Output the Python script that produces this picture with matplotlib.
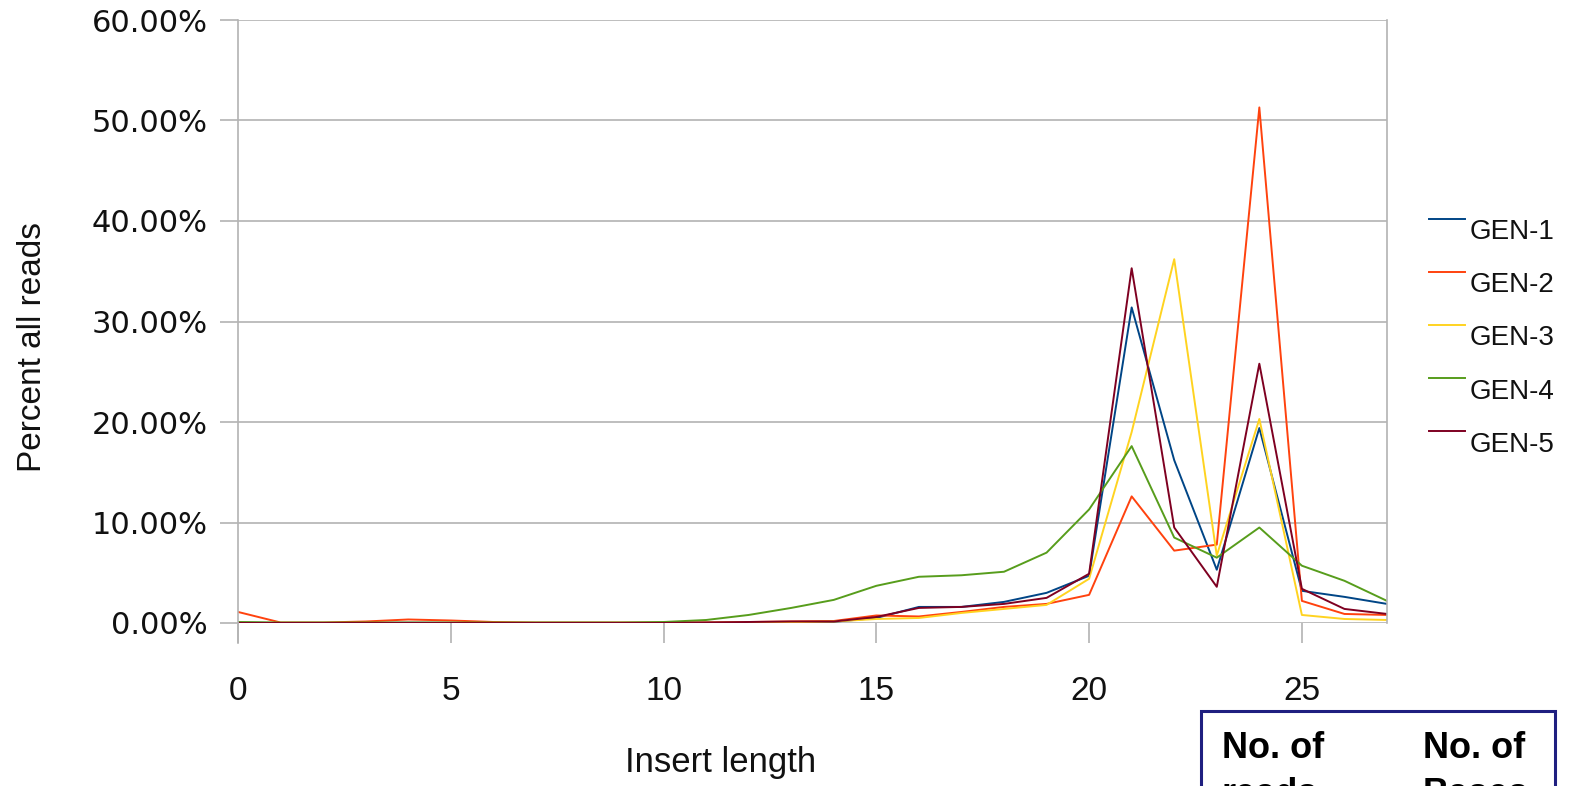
import numpy as np
import matplotlib
matplotlib.use("Agg")
import matplotlib.pyplot as plt
from matplotlib.legend_handler import HandlerLine2D
from matplotlib.patches import Rectangle

plt.rcParams['font.family'] = ['Liberation Sans', 'DejaVu Sans']

insert_len = list(range(28))
gen1 = [0.05, 0.0, 0.0, 0.02, 0.03, 0.02, 0.0, 0.0, 0.0, 0.0, 0.0, 0.02, 0.05, 0.08,
        0.12, 0.5, 1.6, 1.6, 2.1, 3.0, 4.7, 31.4, 16.2, 5.3, 19.4, 3.2, 2.6, 1.9]
gen2 = [1.1, 0.05, 0.05, 0.15, 0.35, 0.25, 0.1, 0.05, 0.05, 0.05, 0.05, 0.05, 0.1, 0.15,
        0.2, 0.75, 0.65, 1.1, 1.6, 1.9, 2.8, 12.6, 7.2, 7.8, 51.3, 2.2, 0.9, 0.8]
gen3 = [0.0, 0.0, 0.0, 0.0, 0.0, 0.0, 0.0, 0.0, 0.0, 0.0, 0.0, 0.02, 0.05, 0.08,
        0.15, 0.4, 0.5, 1.0, 1.4, 1.8, 4.4, 19.0, 36.2, 6.7, 20.3, 0.8, 0.4, 0.3]
gen4 = [0.1, 0.05, 0.05, 0.05, 0.05, 0.05, 0.05, 0.05, 0.05, 0.05, 0.1, 0.3, 0.8, 1.5,
        2.3, 3.7, 4.6, 4.75, 5.1, 7.0, 11.3, 17.6, 8.5, 6.5, 9.5, 5.7, 4.2, 2.2]
gen5 = [0.0, 0.0, 0.0, 0.0, 0.0, 0.0, 0.0, 0.0, 0.0, 0.0, 0.0, 0.05, 0.1, 0.15,
        0.15, 0.6, 1.5, 1.6, 1.9, 2.5, 4.9, 35.3, 9.5, 3.6, 25.8, 3.4, 1.4, 0.9]
series = [gen1, gen2, gen3, gen4, gen5]
names = ['GEN-1', 'GEN-2', 'GEN-3', 'GEN-4', 'GEN-5']
colors = ['#004586', '#ff420e', '#ffd320', '#579d1c', '#7e0021']

grid_c = '#b3b3b3'
txt_c = '#111111'


class TopLine(HandlerLine2D):
    # legend line sits at the top of the label, like the original
    def create_artists(self, legend, orig_handle, xdescent, ydescent,
                       width, height, fontsize, trans):
        arts = super().create_artists(legend, orig_handle, xdescent, ydescent,
                                      width, height, fontsize, trans)
        for a in arts:
            a.set_ydata(np.full(len(a.get_xdata()), height * 1.05))
        return arts


W, H = 1580, 786
fig = plt.figure(figsize=(W / 100, H / 100), dpi=100)
# plot area: x 238..1387 px, y 20..623 px
ax = fig.add_axes([238 / W, 1 - 623 / H, (1387 - 238) / W, (623 - 20) / H])

for vals, nm, c in zip(series, names, colors):
    ax.plot(insert_len, vals, color=c, lw=1.4, label=nm)

ax.set_xlim(0, 27)
ax.set_ylim(0, 60)
ax.set_xticks([0, 5, 10, 15, 20, 25])
yt = np.arange(0, 61, 10)
ax.set_yticks(yt)
ax.set_yticklabels(['%.2f%%' % v for v in yt], family='DejaVu Sans')
ax.yaxis.grid(True, color=grid_c, lw=1.2)
ax.set_axisbelow(True)
for s in ['top', 'bottom']:
    ax.spines[s].set_visible(False)
for s in ['left', 'right']:
    ax.spines[s].set_color(grid_c)
    ax.spines[s].set_linewidth(1.2)
ax.axvline(0, ymin=-0.033, ymax=0, color=grid_c, lw=1.2, clip_on=False)
ax.tick_params(axis='x', length=14.5, width=1.2, color=grid_c, pad=24,
               labelsize=24, labelcolor=txt_c)
ax.tick_params(axis='y', length=13, width=1.2, color=grid_c, pad=9,
               labelsize=22, labelcolor=txt_c)

ax.set_xlabel('Insert length', fontsize=25, va='center', color=txt_c)
ax.xaxis.set_label_coords(0.42, -0.232)
ax.set_ylabel('Percent all reads', fontsize=24, va='center', color=txt_c)
ax.yaxis.set_label_coords(-0.179, 0.458)

leg = ax.legend(loc='upper left', bbox_to_anchor=(0.9045, 1 - 219 / H),
                bbox_transform=fig.transFigure, frameon=False, fontsize=20,
                handlelength=1.3, handletextpad=0.15, labelspacing=0.98,
                borderpad=0, borderaxespad=0,
                handler_map={plt.Line2D: TopLine()})
for t in leg.get_texts():
    t.set_color(txt_c)

# boxed table header cut off at the bottom of the slide
box = Rectangle((1201 / W, -0.1), (1555 - 1201) / W, 1 - 711 / H + 0.1,
                transform=fig.transFigure, fill=False, edgecolor='#1f1f80', lw=2.2)
fig.patches.append(box)
for x0, second in [(1222, 'reads'), (1423, 'Bases')]:
    fig.text(x0 / W, 1 - 758 / H, 'No. of', fontsize=26, fontweight='bold',
             va='baseline', ha='left')
    fig.text(x0 / W, 1 - 804 / H, second, fontsize=26, fontweight='bold',
             va='baseline', ha='left')

fig.savefig('out.png', dpi=100)
